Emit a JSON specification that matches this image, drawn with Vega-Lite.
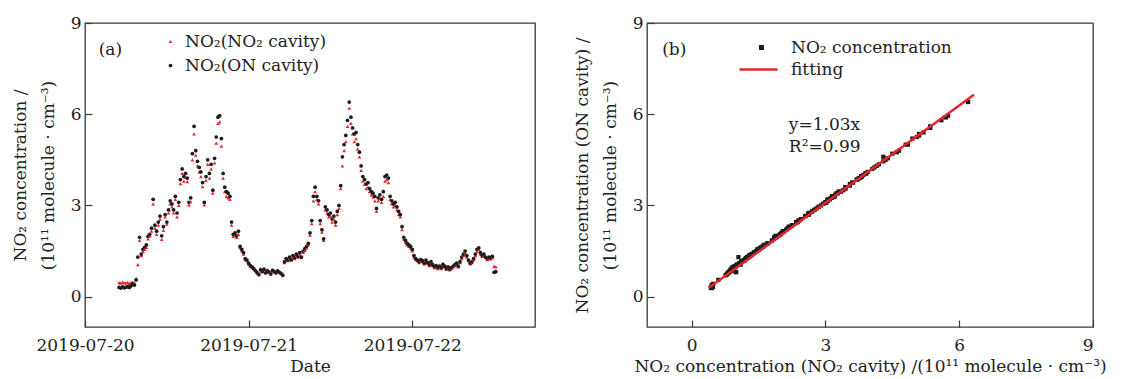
{
"$schema": "https://vega.github.io/schema/vega-lite/v6.json",
"padding": {"left": 10, "top": 13, "right": 0, "bottom": 0},
"background": "white",
"config": {
  "font": "DejaVu Serif",
  "view": {"stroke": "#3a3a3a", "strokeWidth": 1.3},
  "axis": {"domain": false, "grid": false, "tickSize": -7, "tickColor": "#3a3a3a", "tickWidth": 1.2,
    "labelFont": "DejaVu Serif", "labelFontSize": 17, "labelColor": "#222",
    "titleFont": "DejaVu Serif", "titleFontSize": 17, "titleFontWeight": "normal", "titleColor": "#222"},
  "axisX": {"labelPadding": 17, "titlePadding": 5},
  "axisY": {"labelPadding": 11, "titlePadding": 13, "titleLineHeight": 28},
  "legend": {"labelFontSize": 17, "labelFont": "DejaVu Serif", "labelColor": "#222", "rowPadding": 6, "clipHeight": 17, "padding": 0, "labelLimit": 400, "orient": "none"},
  "text": {"font": "DejaVu Serif", "fontSize": 17, "color": "#222"}
},
"datasets": {
"obs": [
{"t":"2019-07-20 05:00","a":0.46,"b":0.30},{"t":"2019-07-20 05:15","a":0.44,"b":0.28},{"t":"2019-07-20 05:30","a":0.48,"b":0.32},{"t":"2019-07-20 05:45","a":0.45,"b":0.29},
{"t":"2019-07-20 06:00","a":0.45,"b":0.31},{"t":"2019-07-20 06:15","a":0.47,"b":0.33},{"t":"2019-07-20 06:30","a":0.43,"b":0.30},{"t":"2019-07-20 06:45","a":0.46,"b":0.35},
{"t":"2019-07-20 07:00","a":0.48,"b":0.42},{"t":"2019-07-20 07:15","a":0.45,"b":0.38},{"t":"2019-07-20 07:30","a":0.60,"b":0.55},{"t":"2019-07-20 07:45","a":1.05,"b":1.30},
{"t":"2019-07-20 08:00","a":1.85,"b":1.95},{"t":"2019-07-20 08:15","a":1.35,"b":1.40},{"t":"2019-07-20 08:30","a":1.48,"b":1.55},{"t":"2019-07-20 08:45","a":1.55,"b":1.62},
{"t":"2019-07-20 09:00","a":1.62,"b":1.70},{"t":"2019-07-20 09:15","a":1.90,"b":1.98},{"t":"2019-07-20 09:30","a":2.00,"b":2.05},{"t":"2019-07-20 09:45","a":2.15,"b":2.25},
{"t":"2019-07-20 10:00","a":3.05,"b":3.20},{"t":"2019-07-20 10:15","a":2.25,"b":2.35},{"t":"2019-07-20 10:30","a":2.05,"b":2.15},{"t":"2019-07-20 10:45","a":2.35,"b":2.45},
{"t":"2019-07-20 11:00","a":2.55,"b":2.65},{"t":"2019-07-20 11:15","a":1.88,"b":2.00},{"t":"2019-07-20 11:30","a":2.18,"b":2.30},{"t":"2019-07-20 11:45","a":2.62,"b":2.70},
{"t":"2019-07-20 12:00","a":2.38,"b":2.45},{"t":"2019-07-20 12:15","a":2.75,"b":2.85},{"t":"2019-07-20 12:30","a":3.05,"b":3.15},{"t":"2019-07-20 12:45","a":2.95,"b":3.05},
{"t":"2019-07-20 13:00","a":2.75,"b":2.85},{"t":"2019-07-20 13:15","a":3.20,"b":3.30},{"t":"2019-07-20 13:30","a":2.62,"b":2.75},{"t":"2019-07-20 13:45","a":3.00,"b":3.10},
{"t":"2019-07-20 14:00","a":3.72,"b":3.85},{"t":"2019-07-20 14:15","a":4.05,"b":4.20},{"t":"2019-07-20 14:30","a":3.80,"b":3.95},{"t":"2019-07-20 14:45","a":3.92,"b":4.05},
{"t":"2019-07-20 15:00","a":3.78,"b":3.90},{"t":"2019-07-20 15:15","a":3.02,"b":3.10},{"t":"2019-07-20 15:30","a":3.12,"b":3.25},{"t":"2019-07-20 15:45","a":4.50,"b":4.70},
{"t":"2019-07-20 16:00","a":5.35,"b":5.60},{"t":"2019-07-20 16:15","a":4.65,"b":4.80},{"t":"2019-07-20 16:30","a":4.30,"b":4.45},{"t":"2019-07-20 16:45","a":4.10,"b":4.25},
{"t":"2019-07-20 17:00","a":3.95,"b":4.10},{"t":"2019-07-20 17:15","a":3.62,"b":3.75},{"t":"2019-07-20 17:30","a":3.02,"b":3.10},{"t":"2019-07-20 17:45","a":3.82,"b":3.95},
{"t":"2019-07-20 18:00","a":4.35,"b":4.50},{"t":"2019-07-20 18:15","a":3.90,"b":4.05},{"t":"2019-07-20 18:30","a":4.20,"b":4.35},{"t":"2019-07-20 18:45","a":3.40,"b":3.50},
{"t":"2019-07-20 19:00","a":4.40,"b":4.55},{"t":"2019-07-20 19:15","a":5.05,"b":5.25},{"t":"2019-07-20 19:30","a":5.70,"b":5.90},{"t":"2019-07-20 19:45","a":5.75,"b":5.95},
{"t":"2019-07-20 20:00","a":4.95,"b":5.20},{"t":"2019-07-20 20:15","a":3.90,"b":4.05},{"t":"2019-07-20 20:30","a":3.45,"b":3.60},{"t":"2019-07-20 20:45","a":3.30,"b":3.45},
{"t":"2019-07-20 21:00","a":3.25,"b":3.40},{"t":"2019-07-20 21:15","a":3.20,"b":3.30},{"t":"2019-07-20 21:30","a":2.35,"b":2.45},{"t":"2019-07-20 21:45","a":1.98,"b":2.05},
{"t":"2019-07-20 22:00","a":2.02,"b":2.10},{"t":"2019-07-20 22:15","a":1.95,"b":2.00},{"t":"2019-07-20 22:30","a":2.05,"b":2.15},{"t":"2019-07-20 22:45","a":1.60,"b":1.65},
{"t":"2019-07-20 23:00","a":1.50,"b":1.55},{"t":"2019-07-20 23:15","a":1.40,"b":1.45},{"t":"2019-07-20 23:30","a":1.22,"b":1.25},{"t":"2019-07-20 23:45","a":1.18,"b":1.20},
{"t":"2019-07-21 00:00","a":1.08,"b":1.10},{"t":"2019-07-21 00:15","a":1.00,"b":1.02},{"t":"2019-07-21 00:30","a":0.95,"b":0.98},{"t":"2019-07-21 00:45","a":0.92,"b":0.92},
{"t":"2019-07-21 01:00","a":0.88,"b":0.85},{"t":"2019-07-21 01:15","a":0.82,"b":0.78},{"t":"2019-07-21 01:30","a":0.78,"b":0.72},{"t":"2019-07-21 01:45","a":0.92,"b":0.88},
{"t":"2019-07-21 02:00","a":0.85,"b":0.82},{"t":"2019-07-21 02:15","a":0.92,"b":0.90},{"t":"2019-07-21 02:30","a":0.82,"b":0.78},{"t":"2019-07-21 02:45","a":0.88,"b":0.85},
{"t":"2019-07-21 03:00","a":0.84,"b":0.80},{"t":"2019-07-21 03:15","a":0.80,"b":0.74},{"t":"2019-07-21 03:30","a":0.88,"b":0.86},{"t":"2019-07-21 03:45","a":0.85,"b":0.82},
{"t":"2019-07-21 04:00","a":0.82,"b":0.78},{"t":"2019-07-21 04:15","a":0.86,"b":0.85},{"t":"2019-07-21 04:30","a":0.83,"b":0.80},{"t":"2019-07-21 04:45","a":0.80,"b":0.76},
{"t":"2019-07-21 05:00","a":0.76,"b":0.70},{"t":"2019-07-21 05:15","a":1.12,"b":1.15},{"t":"2019-07-21 05:30","a":1.22,"b":1.25},{"t":"2019-07-21 05:45","a":1.18,"b":1.20},
{"t":"2019-07-21 06:00","a":1.26,"b":1.30},{"t":"2019-07-21 06:15","a":1.20,"b":1.22},{"t":"2019-07-21 06:30","a":1.30,"b":1.35},{"t":"2019-07-21 06:45","a":1.25,"b":1.28},
{"t":"2019-07-21 07:00","a":1.36,"b":1.40},{"t":"2019-07-21 07:15","a":1.30,"b":1.32},{"t":"2019-07-21 07:30","a":1.40,"b":1.45},{"t":"2019-07-21 07:45","a":1.28,"b":1.30},
{"t":"2019-07-21 08:00","a":1.46,"b":1.50},{"t":"2019-07-21 08:15","a":1.52,"b":1.58},{"t":"2019-07-21 08:30","a":1.60,"b":1.65},{"t":"2019-07-21 08:45","a":1.70,"b":1.75},
{"t":"2019-07-21 09:00","a":2.02,"b":2.10},{"t":"2019-07-21 09:15","a":2.40,"b":2.50},{"t":"2019-07-21 09:30","a":3.15,"b":3.30},{"t":"2019-07-21 09:45","a":3.45,"b":3.60},
{"t":"2019-07-21 10:00","a":3.20,"b":3.30},{"t":"2019-07-21 10:15","a":3.05,"b":3.15},{"t":"2019-07-21 10:30","a":2.40,"b":2.50},{"t":"2019-07-21 10:45","a":2.12,"b":2.20},
{"t":"2019-07-21 11:00","a":1.85,"b":1.90},{"t":"2019-07-21 11:15","a":2.85,"b":2.95},{"t":"2019-07-21 11:30","a":2.75,"b":2.85},{"t":"2019-07-21 11:45","a":2.62,"b":2.70},
{"t":"2019-07-21 12:00","a":2.65,"b":2.75},{"t":"2019-07-21 12:15","a":2.45,"b":2.55},{"t":"2019-07-21 12:30","a":2.55,"b":2.65},{"t":"2019-07-21 12:45","a":2.35,"b":2.45},
{"t":"2019-07-21 13:00","a":2.70,"b":2.80},{"t":"2019-07-21 13:15","a":2.90,"b":3.00},{"t":"2019-07-21 13:30","a":3.55,"b":3.65},{"t":"2019-07-21 13:45","a":4.30,"b":4.60},
{"t":"2019-07-21 14:00","a":4.80,"b":5.00},{"t":"2019-07-21 14:15","a":5.10,"b":5.30},{"t":"2019-07-21 14:30","a":5.60,"b":5.80},{"t":"2019-07-21 14:45","a":6.20,"b":6.40},
{"t":"2019-07-21 15:00","a":5.70,"b":5.90},{"t":"2019-07-21 15:15","a":5.35,"b":5.55},{"t":"2019-07-21 15:30","a":5.10,"b":5.35},{"t":"2019-07-21 15:45","a":5.20,"b":5.40},
{"t":"2019-07-21 16:00","a":4.85,"b":5.00},{"t":"2019-07-21 16:15","a":4.60,"b":4.75},{"t":"2019-07-21 16:30","a":4.15,"b":4.30},{"t":"2019-07-21 16:45","a":3.80,"b":3.95},
{"t":"2019-07-21 17:00","a":3.70,"b":3.85},{"t":"2019-07-21 17:15","a":3.55,"b":3.70},{"t":"2019-07-21 17:30","a":3.60,"b":3.75},{"t":"2019-07-21 17:45","a":3.45,"b":3.55},
{"t":"2019-07-21 18:00","a":3.35,"b":3.45},{"t":"2019-07-21 18:15","a":3.28,"b":3.40},{"t":"2019-07-21 18:30","a":3.15,"b":3.30},{"t":"2019-07-21 18:45","a":2.80,"b":2.90},
{"t":"2019-07-21 19:00","a":3.15,"b":3.25},{"t":"2019-07-21 19:15","a":3.22,"b":3.35},{"t":"2019-07-21 19:30","a":3.10,"b":3.20},{"t":"2019-07-21 19:45","a":3.30,"b":3.45},
{"t":"2019-07-21 20:00","a":3.80,"b":3.95},{"t":"2019-07-21 20:15","a":3.85,"b":4.00},{"t":"2019-07-21 20:30","a":3.75,"b":3.90},{"t":"2019-07-21 20:45","a":3.20,"b":3.30},
{"t":"2019-07-21 21:00","a":3.05,"b":3.15},{"t":"2019-07-21 21:15","a":2.95,"b":3.05},{"t":"2019-07-21 21:30","a":3.00,"b":3.10},{"t":"2019-07-21 21:45","a":2.85,"b":2.95},
{"t":"2019-07-21 22:00","a":2.70,"b":2.80},{"t":"2019-07-21 22:15","a":2.62,"b":2.70},{"t":"2019-07-21 22:30","a":2.20,"b":2.30},{"t":"2019-07-21 22:45","a":1.90,"b":1.95},
{"t":"2019-07-21 23:00","a":1.80,"b":1.85},{"t":"2019-07-21 23:15","a":1.70,"b":1.75},{"t":"2019-07-21 23:30","a":1.65,"b":1.70},{"t":"2019-07-21 23:45","a":1.60,"b":1.65},
{"t":"2019-07-22 00:00","a":1.50,"b":1.55},{"t":"2019-07-22 00:15","a":1.30,"b":1.35},{"t":"2019-07-22 00:30","a":1.22,"b":1.25},{"t":"2019-07-22 00:45","a":1.18,"b":1.20},
{"t":"2019-07-22 01:00","a":1.12,"b":1.15},{"t":"2019-07-22 01:15","a":1.20,"b":1.22},{"t":"2019-07-22 01:30","a":1.15,"b":1.18},{"t":"2019-07-22 01:45","a":1.08,"b":1.10},
{"t":"2019-07-22 02:00","a":1.18,"b":1.20},{"t":"2019-07-22 02:15","a":1.10,"b":1.12},{"t":"2019-07-22 02:30","a":1.02,"b":1.05},{"t":"2019-07-22 02:45","a":1.12,"b":1.15},
{"t":"2019-07-22 03:00","a":1.02,"b":1.05},{"t":"2019-07-22 03:15","a":0.95,"b":0.98},{"t":"2019-07-22 03:30","a":1.00,"b":1.02},{"t":"2019-07-22 03:45","a":0.92,"b":0.95},
{"t":"2019-07-22 04:00","a":0.98,"b":1.00},{"t":"2019-07-22 04:15","a":0.92,"b":0.95},{"t":"2019-07-22 04:30","a":1.10,"b":1.05},{"t":"2019-07-22 04:45","a":0.98,"b":1.00},
{"t":"2019-07-22 05:00","a":0.90,"b":0.92},{"t":"2019-07-22 05:15","a":0.95,"b":0.98},{"t":"2019-07-22 05:30","a":0.88,"b":0.90},{"t":"2019-07-22 05:45","a":0.92,"b":0.95},
{"t":"2019-07-22 06:00","a":0.98,"b":1.00},{"t":"2019-07-22 06:15","a":1.02,"b":1.05},{"t":"2019-07-22 06:30","a":1.08,"b":1.10},{"t":"2019-07-22 06:45","a":0.98,"b":1.00},
{"t":"2019-07-22 07:00","a":1.12,"b":1.15},{"t":"2019-07-22 07:15","a":1.25,"b":1.30},{"t":"2019-07-22 07:30","a":1.35,"b":1.40},{"t":"2019-07-22 07:45","a":1.45,"b":1.50},
{"t":"2019-07-22 08:00","a":1.30,"b":1.35},{"t":"2019-07-22 08:15","a":1.18,"b":1.20},{"t":"2019-07-22 08:30","a":1.08,"b":1.10},{"t":"2019-07-22 08:45","a":1.12,"b":1.15},
{"t":"2019-07-22 09:00","a":1.22,"b":1.25},{"t":"2019-07-22 09:15","a":1.35,"b":1.40},{"t":"2019-07-22 09:30","a":1.48,"b":1.55},{"t":"2019-07-22 09:45","a":1.55,"b":1.60},
{"t":"2019-07-22 10:00","a":1.40,"b":1.45},{"t":"2019-07-22 10:15","a":1.32,"b":1.35},{"t":"2019-07-22 10:30","a":1.36,"b":1.40},{"t":"2019-07-22 10:45","a":1.28,"b":1.30},
{"t":"2019-07-22 11:00","a":1.22,"b":1.25},{"t":"2019-07-22 11:15","a":1.25,"b":1.30},{"t":"2019-07-22 11:30","a":1.24,"b":1.28},{"t":"2019-07-22 11:45","a":1.28,"b":1.32},
{"t":"2019-07-22 12:00","a":1.00,"b":0.80},{"t":"2019-07-22 12:15","a":0.98,"b":0.82}
],
"fit": [{"fx":0.38,"fy":0.28},{"fx":6.33,"fy":6.64}]
},
"spacing": 36,
"resolve": {"scale": {"color": "independent", "shape": "independent"}, "legend": {"color": "independent", "shape": "independent"}},
"hconcat": [
{
  "width": 450, "height": 304,
  "layer": [
    {
      "data": {"name": "obs"},
      "transform": [{"fold": ["a", "b"], "as": ["series", "value"]}],
      "mark": {"type": "point", "filled": true, "opacity": 1, "size": 14},
      "encoding": {
        "x": {"field": "t", "type": "temporal",
          "scale": {"domain": [{"year": 2019, "month": 7, "date": 20}, {"year": 2019, "month": 7, "date": 22, "hours": 18}]},
          "axis": {"values": [{"year": 2019, "month": 7, "date": 20}, {"year": 2019, "month": 7, "date": 21}, {"year": 2019, "month": 7, "date": 22}], "format": "%Y-%m-%d", "title": "Date", "labelFlush": false, "labelOverlap": false}},
        "y": {"field": "value", "type": "quantitative", "scale": {"domain": [-1, 9]},
          "axis": {"values": [0, 3, 6, 9], "title": ["NO₂ concentration /", "(10¹¹ molecule · cm⁻³)"]}},
        "color": {"field": "series", "type": "nominal", "scale": {"domain": ["a", "b"], "range": ["#e3262b", "#1c1c1c"]},
          "legend": {"title": null, "legendX": 77, "legendY": 10, "symbolSize": 14, "labelOffset": 6,
            "labelExpr": "datum.value == 'a' ? 'NO₂(NO₂ cavity)' : 'NO₂(ON cavity)'"}},
        "shape": {"field": "series", "type": "nominal", "scale": {"domain": ["a", "b"], "range": ["triangle-up", "circle"]},
          "legend": {"title": null, "legendX": 77, "legendY": 10, "symbolSize": 14, "labelOffset": 6,
            "labelExpr": "datum.value == 'a' ? 'NO₂(NO₂ cavity)' : 'NO₂(ON cavity)'"}}
      }
    },
    {
      "data": {"values": [{}]},
      "mark": {"type": "text", "text": "(a)", "align": "left", "baseline": "middle"},
      "encoding": {
        "x": {"datum": {"year": 2019, "month": 7, "date": 20, "hours": 2}, "type": "temporal"},
        "y": {"datum": 8.1, "type": "quantitative"}
      }
    }
  ]
},
{
  "width": 446, "height": 304,
  "resolve": {"scale": {"color": "independent"}, "legend": {"color": "independent"}},
  "layer": [
    {
      "data": {"name": "obs"},
      "mark": {"type": "square", "size": 18, "opacity": 1},
      "encoding": {
        "x": {"field": "a", "type": "quantitative", "scale": {"domain": [-1, 9]},
          "axis": {"values": [0, 3, 6, 9], "title": "NO₂ concentration (NO₂ cavity) /(10¹¹ molecule · cm⁻³)"}},
        "y": {"field": "b", "type": "quantitative", "scale": {"domain": [-1, 9]},
          "axis": {"values": [0, 3, 6, 9], "title": ["NO₂ concentration (ON cavity) /", "(10¹¹ molecule · cm⁻³)"]}},
        "color": {"datum": "NO₂ concentration", "type": "nominal",
          "scale": {"domain": ["NO₂ concentration"], "range": ["#1c1c1c"]},
          "legend": {"title": null, "legendX": 106, "legendY": 16, "symbolSize": 24, "symbolType": "square", "labelOffset": 21}}
      }
    },
    {
      "data": {"name": "fit"},
      "mark": {"type": "line", "strokeWidth": 2.5},
      "encoding": {
        "x": {"field": "fx", "type": "quantitative"},
        "y": {"field": "fy", "type": "quantitative"},
        "color": {"datum": "fitting", "type": "nominal",
          "scale": {"domain": ["fitting"], "range": ["#e3262b"]},
          "legend": {"title": null, "legendX": 91, "legendY": 38, "symbolSize": 1444, "symbolType": "stroke", "symbolStrokeWidth": 2.5, "labelOffset": 12}}
      }
    },
    {
      "data": {"values": [{}]},
      "mark": {"type": "text", "text": "(b)", "align": "left", "baseline": "middle"},
      "encoding": {"x": {"datum": -0.66, "type": "quantitative"}, "y": {"datum": 8.1, "type": "quantitative"}}
    },
    {
      "data": {"values": [{}]},
      "mark": {"type": "text", "text": "y=1.03x", "align": "left", "baseline": "middle"},
      "encoding": {"x": {"datum": 2.18, "type": "quantitative"}, "y": {"datum": 5.65, "type": "quantitative"}}
    },
    {
      "data": {"values": [{}]},
      "mark": {"type": "text", "text": "R²=0.99", "align": "left", "baseline": "middle"},
      "encoding": {"x": {"datum": 2.18, "type": "quantitative"}, "y": {"datum": 4.93, "type": "quantitative"}}
    }
  ]
}
]
}
